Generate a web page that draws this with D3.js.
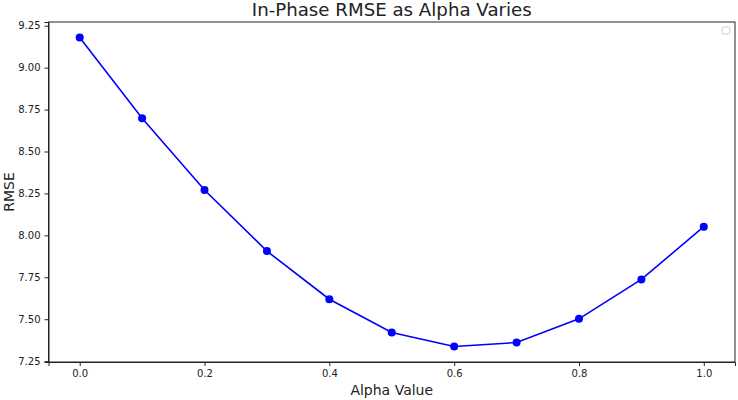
<!DOCTYPE html>
<html>
<head>
<meta charset="utf-8">
<script src="https://cdn.jsdelivr.net/npm/d3@7/dist/d3.min.js"></script>
<style>
  body { margin: 0; background: #fff; }
  svg text { font-family: "DejaVu Sans", sans-serif; fill: #222; }
  .tick text { font-size: 10px; }
  .tick line, .domain { stroke: #222; }
</style>
</head>
<body>
<svg id="chart" width="738" height="400"></svg>
<script>
// alpha values and the in-phase RMSE
var alphas = [0.0, 0.1, 0.2, 0.3, 0.4, 0.5, 0.6, 0.7, 0.8, 0.9, 1.0];
var rmse = [9.180, 8.698, 8.270, 7.906, 7.619, 7.421, 7.337, 7.361, 7.502, 7.737, 8.052];
var xTicks = [0.0, 0.2, 0.4, 0.6, 0.8, 1.0];
var yTicks = [7.25, 7.50, 7.75, 8.00, 8.25, 8.50, 8.75, 9.00, 9.25];

var svg = d3.select("#chart");
var plotLeft = 48.5, plotRight = 735, plotTop = 22, plotBottom = 362;

// matplotlib style 5% padding
var xPad = 0.05 * (d3.max(alphas) - d3.min(alphas));
var yPad = 0.05 * (d3.max(rmse) - d3.min(rmse));

var x = d3.scaleLinear()
  .domain([d3.min(alphas) - xPad, d3.max(alphas) + xPad])
  .range([plotLeft, plotRight]);
var y = d3.scaleLinear()
  .domain([d3.min(rmse) - yPad, d3.max(rmse) + yPad])
  .range([plotBottom, plotTop]);

svg.append("g")
  .attr("transform", "translate(0," + plotBottom + ")")
  .call(d3.axisBottom(x).tickValues(xTicks).tickFormat(d3.format(".1f")).tickSizeOuter(0).tickSize(4).tickPadding(4));

svg.append("g")
  .attr("transform", "translate(" + plotLeft + ",0)")
  .call(d3.axisLeft(y).tickValues(yTicks).tickFormat(d3.format(".2f")).tickSizeOuter(0).tickSize(4).tickPadding(4));

// box around plot
svg.append("rect")
  .attr("x", plotLeft).attr("y", plotTop)
  .attr("width", plotRight - plotLeft).attr("height", plotBottom - plotTop)
  .attr("fill", "none").attr("stroke", "#222").attr("stroke-width", 1);

var pts = alphas.map(function(a, i) { return [a, rmse[i]]; });

svg.append("path")
  .datum(pts)
  .attr("fill", "none")
  .attr("stroke", "#0000ff")
  .attr("stroke-width", 1.6)
  .attr("d", d3.line().x(function(d) { return x(d[0]); }).y(function(d) { return y(d[1]); }));

svg.selectAll("circle.pt")
  .data(pts)
  .enter().append("circle")
  .attr("class", "pt")
  .attr("cx", function(d) { return x(d[0]); })
  .attr("cy", function(d) { return y(d[1]); })
  .attr("r", 4)
  .attr("fill", "#0000ff");

// empty legend box
svg.append("rect")
  .attr("x", plotRight - 13).attr("y", plotTop + 5)
  .attr("width", 8).attr("height", 7)
  .attr("rx", 1.5)
  .attr("fill", "#fff").attr("stroke", "#ccc").attr("stroke-width", 1);

svg.append("text")
  .attr("x", (plotLeft + plotRight) / 2).attr("y", 16)
  .attr("text-anchor", "middle")
  .style("font-size", "18.2px")
  .text("In-Phase RMSE as Alpha Varies");

svg.append("text")
  .attr("x", (plotLeft + plotRight) / 2).attr("y", 395)
  .attr("text-anchor", "middle")
  .style("font-size", "14px")
  .text("Alpha Value");

svg.append("text")
  .attr("transform", "translate(14," + (plotTop + plotBottom) / 2 + ") rotate(-90)")
  .attr("text-anchor", "middle")
  .style("font-size", "14px")
  .text("RMSE");
</script>
</body>
</html>
